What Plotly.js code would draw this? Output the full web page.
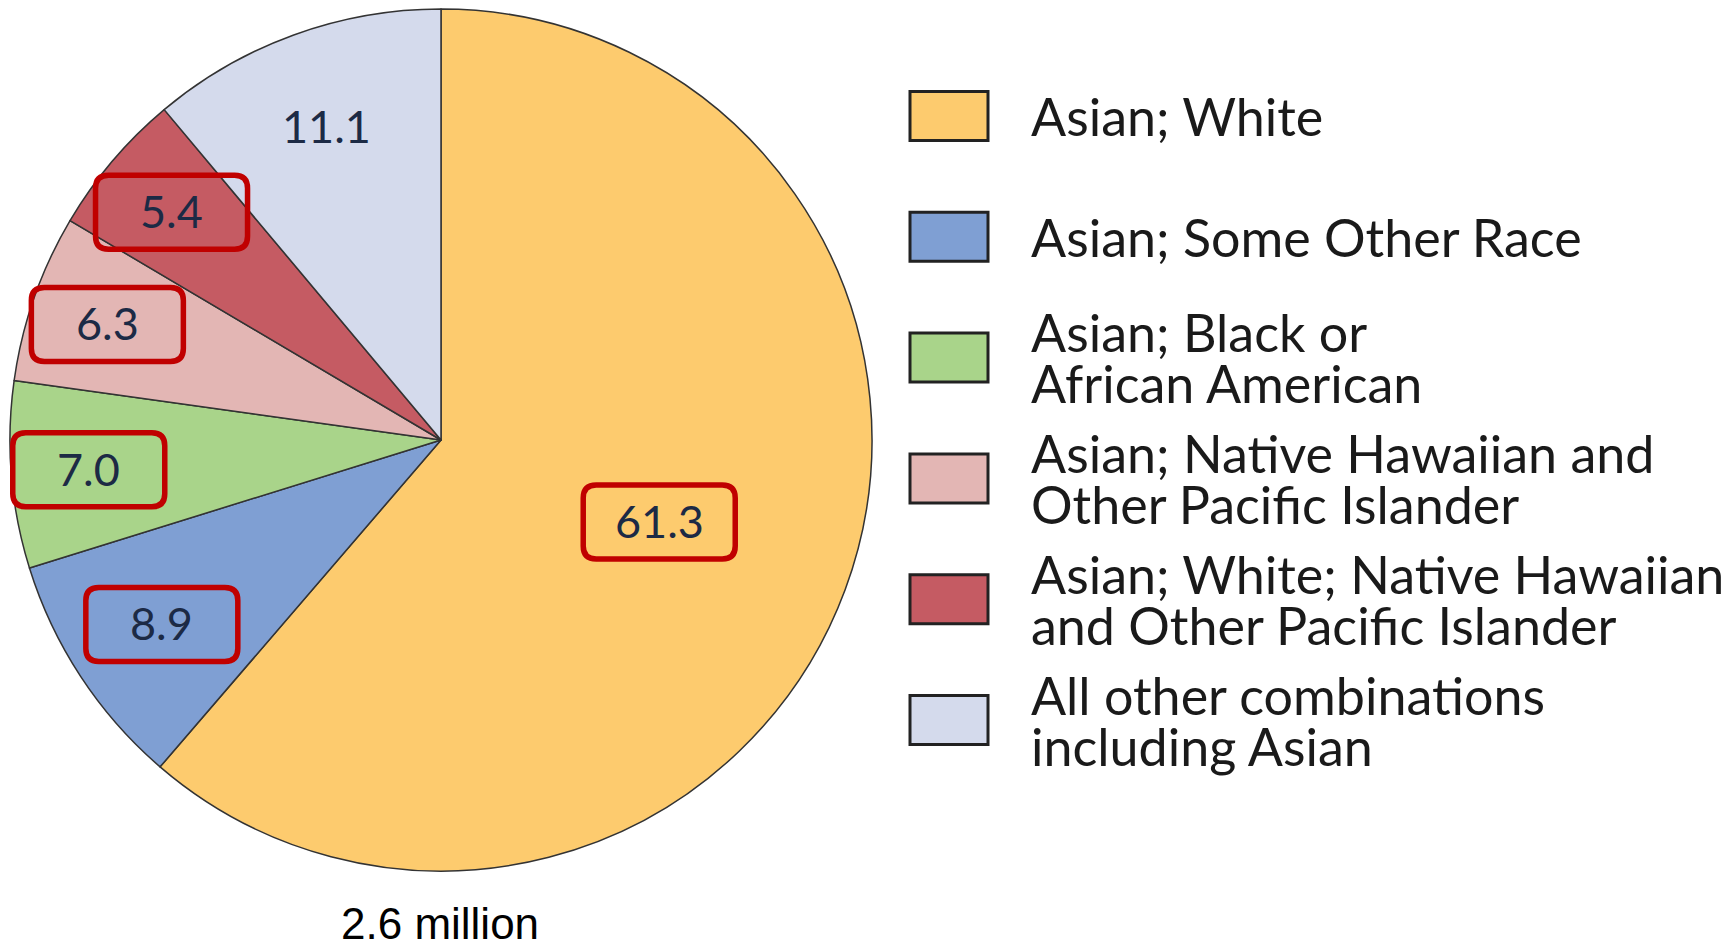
<!DOCTYPE html>
<html>
<head>
<meta charset="utf-8">
<script src="https://cdn.plot.ly/plotly-3.0.1.min.js"></script>
<style>html,body{margin:0;padding:0;background:#fff;}#chart{width:1736px;height:950px;}</style>
</head>
<body>
<div id="chart"></div>
<script>
const categories = [
  "Asian; White",
  "Asian; Some Other Race",
  "Asian; Black or<br>African American",
  "Asian; Native Hawaiian and<br>Other Pacific Islander",
  "Asian; White; Native Hawaiian<br>and Other Pacific Islander",
  "All other combinations<br>including Asian"
];
const shares = [61.3, 8.9, 7.0, 6.3, 5.4, 11.1];
const colors = ["#FDCB6E", "#7F9FD3", "#A9D48A", "#E3B6B4", "#C55B63", "#D4DAEC"];
const highlighted = [true, true, true, true, true, false];
const totalLabel = "2.6 million";

const W = 1736, H = 950;
const cx = 441, cy = 440, R = 431;
const labelFont = "Lato, 'Open Sans', sans-serif";

const pie = {
  type: "pie",
  values: shares,
  labels: categories,
  sort: false,
  direction: "clockwise",
  rotation: 0,
  textinfo: "none",
  hoverinfo: "label+value",
  showlegend: false,
  marker: { colors: colors, line: { color: "#333333", width: 1.5 } },
  domain: { x: [(cx - R) / W, (cx + R) / W], y: [1 - (cy + R) / H, 1 - (cy - R) / H] }
};

const annotations = [];
const shapes = [];
const total = shares.reduce((a, b) => a + b, 0);

function roundedBox(px, py, w, h, r) {
  // px, py: pixel centre; returns a paper-coordinate path
  const X = v => (v / W).toFixed(5);
  const Y = v => (1 - v / H).toFixed(5);
  const x0 = px - w / 2, x1 = px + w / 2, y0 = py - h / 2, y1 = py + h / 2;
  return "M" + X(x0 + r) + "," + Y(y0) +
    " L" + X(x1 - r) + "," + Y(y0) +
    " Q" + X(x1) + "," + Y(y0) + " " + X(x1) + "," + Y(y0 + r) +
    " L" + X(x1) + "," + Y(y1 - r) +
    " Q" + X(x1) + "," + Y(y1) + " " + X(x1 - r) + "," + Y(y1) +
    " L" + X(x0 + r) + "," + Y(y1) +
    " Q" + X(x0) + "," + Y(y1) + " " + X(x0) + "," + Y(y1 - r) +
    " L" + X(x0) + "," + Y(y0 + r) +
    " Q" + X(x0) + "," + Y(y0) + " " + X(x0 + r) + "," + Y(y0) + " Z";
}

let cum = 0;
shares.forEach((v, i) => {
  const mid = (cum + v / 2) / total * 2 * Math.PI;
  cum += v;
  const f = v > 50 ? 0.54 : (v < 8 ? 0.82 : 0.775);
  const px = cx + R * f * Math.sin(mid);
  const py = cy - R * f * Math.cos(mid);
  annotations.push({
    x: px / W, y: 1 - py / H, xref: "paper", yref: "paper",
    xanchor: "center", yanchor: "middle", showarrow: false,
    text: v.toFixed(1),
    font: { family: labelFont, size: 45, color: "#1C2A45" }
  });
  if (highlighted[i]) {
    shapes.push({
      type: "path", xref: "paper", yref: "paper",
      path: roundedBox(px, py + 1, 152, 74, 13),
      fillcolor: "rgba(0,0,0,0)",
      line: { color: "#C00000", width: 5.5 }
    });
  }
});

// Custom legend
const legX0 = 910, legX1 = 988, legY0 = 116, legStep = 120.8, swH = 49, lineGap = 51;
categories.forEach((c, i) => {
  const yc = legY0 + i * legStep;
  shapes.push({
    type: "rect", xref: "paper", yref: "paper",
    x0: legX0 / W, x1: legX1 / W, y0: 1 - (yc - swH / 2) / H, y1: 1 - (yc + swH / 2) / H,
    fillcolor: colors[i], line: { color: "#222222", width: 3 }
  });
  const lines = c.split("<br>");
  lines.forEach((ln, j) => {
    const ly = yc + (j - (lines.length - 1) / 2) * lineGap;
    annotations.push({
      x: 1029 / W, y: 1 - ly / H, xref: "paper", yref: "paper",
      xanchor: "left", yanchor: "middle", align: "left", showarrow: false,
      text: ln, font: { family: labelFont, size: 52, color: "#1A1A1A" }
    });
  });
});

annotations.push({
  x: 440 / W, y: 0, xref: "paper", yref: "paper",
  xanchor: "center", yanchor: "bottom", showarrow: false,
  text: totalLabel, font: { family: "'Liberation Sans', Arial, sans-serif", size: 44, color: "#000000" }
});

const layout = {
  width: W, height: H,
  margin: { l: 0, r: 0, t: 0, b: 0 },
  paper_bgcolor: "#ffffff",
  plot_bgcolor: "#ffffff",
  showlegend: false,
  annotations: annotations,
  shapes: shapes
};

Plotly.newPlot("chart", [pie], layout, { displayModeBar: false, staticPlot: true });
</script>
</body>
</html>
